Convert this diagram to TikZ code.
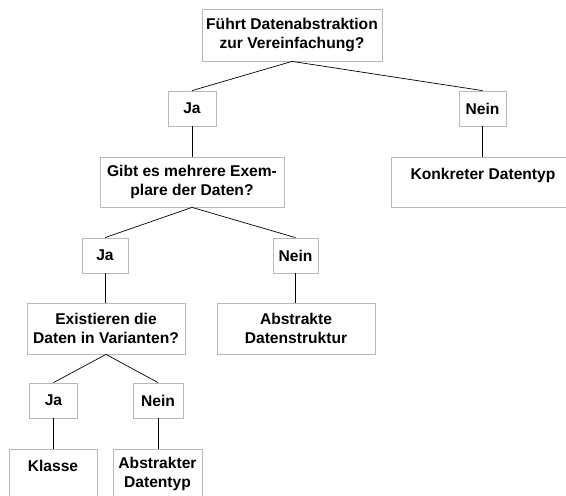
\documentclass[tikz,border=0pt]{standalone}
\usepackage{fontspec}
\setmainfont{Liberation Sans}
\begin{document}
\begin{tikzpicture}[x=1pt,y=-1pt,
  box/.style={draw=gray!55, line width=0.8pt, rectangle, inner sep=0pt, align=center,
    font=\fontsize{15.6}{18.3}\selectfont\bfseries},
  ans/.style={box, minimum height=35pt},
  link/.style={draw=black, line width=0.7pt}]
\useasboundingbox (0,0) rectangle (566,496);
\node[box, minimum width=180pt, minimum height=52pt] (q1) at (292,35) {Führt Datenabstraktion\\zur Vereinfachung?};
\node[ans, minimum width=48pt] (ja1) at (192,108.5) {Ja};
\node[ans, minimum width=47pt] (nein1) at (482.5,108.5) {Nein};
\node[box, minimum width=184pt, minimum height=50pt] (q2) at (192,182) {Gibt es mehrere Exem-\\plare der Daten?};
\node[box, minimum width=184pt, minimum height=50pt] (konk) at (483,182) {Konkreter Datentyp\\[-2pt]\mbox{}};
\node[ans, minimum width=46pt] (ja2) at (105,255.5) {Ja};
\node[ans, minimum width=45pt] (nein2) at (295.5,255.5) {Nein};
\node[box, minimum width=158pt, minimum height=51pt] (q3) at (106,328.5) {Existieren die\\Daten in Varianten?};
\node[box, minimum width=158pt, minimum height=51pt] (ads) at (296,328.5) {Abstrakte\\Datenstruktur};
\node[ans, minimum width=48pt] (ja3) at (53.5,400.5) {Ja};
\node[ans, minimum width=50pt] (nein3) at (158,400.5) {Nein};
\node[box, minimum width=88pt, minimum height=50pt] (kl) at (53,474) {Klasse\\[-2pt]\mbox{}};
\node[box, minimum width=89pt, minimum height=50pt] (adt) at (157.5,474) {Abstrakter\\Datentyp};
\draw[link] (q1.south) -- (ja1.north);
\draw[link] (q1.south) -- (nein1.north);
\draw[link] (ja1.south) -- (q2.north);
\draw[link] (nein1.south) -- (konk.north -| nein1.south);
\draw[link] (q2.south) -- (ja2.north);
\draw[link] (q2.south) -- (nein2.north);
\draw[link] (ja2.south) -- (q3.north -| ja2.south);
\draw[link] (nein2.south) -- (ads.north -| nein2.south);
\draw[link] (q3.south) -- (ja3.north);
\draw[link] (q3.south) -- (nein3.north);
\draw[link] (ja3.south) -- (kl.north -| ja3.south);
\draw[link] (nein3.south) -- (adt.north -| nein3.south);
\end{tikzpicture}
\end{document}
